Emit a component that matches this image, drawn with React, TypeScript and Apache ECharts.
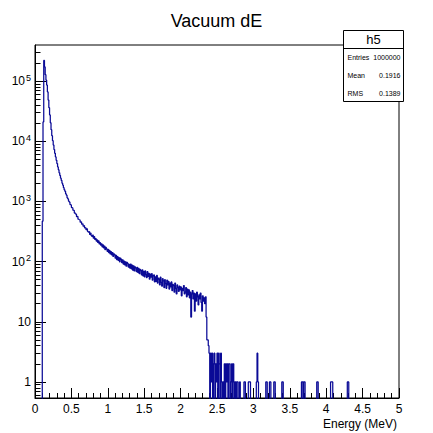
import React, { useEffect, useRef } from "react";
import * as echarts from "echarts";

// Histogram: 500 bins of 0.01 MeV from 0 to 5 MeV
const binWidth = 0.01;
const xMin = 0;
const xMax = 5;

// bins 0..11
const riseCounts = [0, 0, 0, 0, 0, 0, 0, 0, 0, 0, 470, 21000];

// bins 12..239
const bodyCounts = [
  220000, 172000, 128000, 104000, 86000, 66000, 48500, 36200,
  27400, 20300, 15600, 12400, 10200, 8650, 7280, 6310, 5490, 4820,
  4260, 3740, 3360, 2990, 2710, 2440, 2230, 2010, 1860, 1690,
  1562, 1471, 1338, 1272, 1151, 1102, 1009, 978, 889, 867,
  791, 779, 716, 704, 641, 633, 611, 559, 563, 508,
  497, 491, 452, 461, 418, 425, 388, 397, 362, 367,
  339, 351, 318, 309, 317, 283, 296, 271, 262, 276,
  245, 259, 233, 241, 219, 229, 208, 221, 197, 206,
  187, 198, 176, 189, 169, 181, 158, 172, 163, 148,
  159, 141, 153, 134, 146, 129, 141, 122, 135, 131,
  114, 127, 108, 121, 105, 116, 99, 114, 109, 96,
  107, 91, 102, 88, 99, 84, 97, 93, 81, 90,
  78, 91, 76, 87, 72, 85, 70, 82, 79, 68,
  80, 66, 77, 63, 74, 71, 60, 73, 58, 69,
  56, 70, 61, 54, 68, 57, 64, 51, 62, 55,
  63, 49, 58, 60, 46, 56, 47, 59, 44, 53,
  51, 41, 55, 45, 39, 52, 48, 37, 50, 43,
  36, 49, 41, 47, 35, 44, 38, 46, 33, 42,
  40, 31, 44, 36, 29, 41, 37, 32, 39, 34,
  38, 27, 36, 33, 40, 29, 31, 37, 26, 35,
  28, 34, 25, 31, 12, 29, 33, 24, 30, 15,
  29, 22, 31, 26, 19, 28, 24, 30, 21, 15,
  27, 22, 25, 20, 26, 12, 5, 5, 4, 3,
];

// bins 240..499
const tailCounts = [
  0, 3, 1, 3, 0, 2, 3, 0, 2, 1,
  3, 0, 3, 2, 0, 3, 1, 0, 1, 0,
  2, 0, 2, 1, 2, 0, 2, 2, 0, 1,
  2, 0, 2, 1, 0, 1, 0, 1, 1, 0,
  0, 1, 0, 0, 0, 0, 0, 1, 1, 0,
  0, 0, 0, 1, 1, 1, 0, 0, 0, 0,
  0, 0, 0, 0, 1, 3, 1, 0, 0, 0,
  0, 0, 0, 0, 0, 0, 0, 1, 1, 0,
  0, 0, 1, 1, 0, 0, 0, 0, 1, 1,
  0, 0, 0, 0, 0, 0, 0, 0, 0, 1,
  1, 0, 0, 0, 0, 0, 0, 0, 0, 0,
  0, 0, 0, 0, 0, 0, 0, 0, 0, 0,
  0, 0, 0, 0, 0, 0, 1, 1, 0, 1,
  1, 0, 0, 0, 0, 0, 0, 0, 0, 0,
  0, 0, 0, 0, 0, 0, 0, 1, 1, 0,
  0, 0, 0, 0, 0, 0, 0, 0, 0, 0,
  0, 0, 0, 0, 0, 0, 1, 1, 1, 0,
  0, 0, 0, 0, 0, 0, 0, 0, 0, 0,
  0, 0, 0, 0, 0, 0, 0, 0, 0, 1,
  1, 0, 0, 0, 0, 0, 0, 0, 0, 0,
  0, 0, 0, 0, 0, 0, 0, 0, 0, 0,
  0, 0, 0, 0, 0, 0, 0, 0, 0, 0,
  0, 0, 0, 0, 0, 0, 0, 0, 0, 0,
  0, 0, 0, 0, 0, 0, 0, 0, 0, 0,
  0, 0, 0, 0, 0, 0, 0, 0, 0, 0,
  0, 0, 0, 0, 0, 0, 0, 0, 0, 0,
];

const counts = [...riseCounts, ...bodyCounts, ...tailCounts];

// y axis range in decades (log10 of counts)
const yLogMin = -0.267;
const yLogMax = 5.6;
const majorDecades = [0, 1, 2, 3, 4, 5];
const minorMultipliers = [2, 3, 4, 5, 6, 7, 8, 9];
const xTickLabels = ["0", "0.5", "1", "1.5", "2", "2.5", "3", "3.5", "4", "4.5", "5"];
const xAxisTitle = "Energy (MeV)";

const statsTitle = "h5";
const statsRows = [
  ["Entries", "1000000"],
  ["Mean", "0.1916"],
  ["RMS", "0.1389"],
];

const FONT = "Liberation Sans";

export default function App() {
  const ref = useRef<HTMLDivElement>(null);

  useEffect(() => {
    if (!ref.current) return;
    const chart = echarts.init(ref.current, null, { renderer: "svg" });

    const data: number[][] = counts.map((c, i) => [
      xMin + i * binWidth,
      c > 0 ? Math.log10(c) : -2,
    ]);
    const last = counts[counts.length - 1];
    data.push([xMax, last > 0 ? Math.log10(last) : -2]);

    const minorVals: number[] = [];
    for (let k = -1; k <= 5; k++) {
      for (const m of minorMultipliers) {
        const v = k + Math.log10(m);
        if (v > yLogMin && v < yLogMax) minorVals.push(v);
      }
    }

    const graphics: any[] = [
      {
        type: "text",
        x: 397,
        y: 424,
        style: {
          text: xAxisTitle,
          font: `12px "${FONT}"`,
          fill: "#000",
          align: "right",
          verticalAlign: "middle",
        },
      },
      {
        type: "rect",
        shape: { x: 343.5, y: 30.5, width: 60, height: 71 },
        style: { fill: "#fff", stroke: "#000", lineWidth: 1 },
        z: 100,
      },
      {
        type: "line",
        shape: { x1: 343.5, y1: 48.5, x2: 403.5, y2: 48.5 },
        style: { stroke: "#000", lineWidth: 1 },
        z: 101,
      },
      {
        type: "text",
        x: 373.5,
        y: 39.5,
        style: {
          text: statsTitle,
          font: `13px "${FONT}"`,
          fill: "#000",
          align: "center",
          verticalAlign: "middle",
        },
        z: 101,
      },
    ];
    statsRows.forEach((row, i) => {
      const y = 57.5 + i * 18;
      graphics.push({
        type: "text",
        x: 347.5,
        y,
        style: {
          text: row[0],
          font: `7px "${FONT}"`,
          fill: "#000",
          align: "left",
          verticalAlign: "middle",
        },
        z: 101,
      });
      graphics.push({
        type: "text",
        x: 400.5,
        y,
        style: {
          text: row[1],
          font: `7px "${FONT}"`,
          fill: "#000",
          align: "right",
          verticalAlign: "middle",
        },
        z: 101,
      });
    });

    chart.setOption({
      animation: false,
      backgroundColor: "#fff",
      title: {
        text: "Vacuum dE",
        left: "center",
        top: 7,
        textStyle: {
          fontFamily: FONT,
          fontSize: 18,
          fontWeight: "normal",
          color: "#000",
        },
      },
      grid: {
        left: 35,
        right: 34,
        top: 45,
        bottom: 35,
        show: true,
        borderColor: "#000",
        borderWidth: 1,
        backgroundColor: "transparent",
      },
      xAxis: {
        type: "value",
        min: xMin,
        max: xMax,
        interval: 0.5,
        axisLine: { show: true, onZero: false, lineStyle: { color: "#000", width: 1 } },
        axisTick: { show: true, inside: true, length: 10, lineStyle: { color: "#000" } },
        minorTick: { show: true, splitNumber: 5, length: 5, lineStyle: { color: "#000" } },
        axisLabel: {
          margin: 5,
          fontFamily: FONT,
          fontSize: 12,
          color: "#000",
          formatter: (v: number) => xTickLabels[Math.round(v / 0.5)] ?? String(v),
        },
        splitLine: { show: false },
        minorSplitLine: { show: false },
      },
      yAxis: [
        {
          type: "value",
          min: yLogMin,
          max: yLogMax,
          axisLine: { show: true, onZero: false, lineStyle: { color: "#000", width: 1 } },
          axisTick: {
            show: true,
            inside: true,
            length: 11,
            customValues: majorDecades,
            lineStyle: { color: "#000" },
          },
          axisLabel: {
            customValues: majorDecades,
            margin: 4,
            fontFamily: FONT,
            fontSize: 12,
            color: "#000",
            formatter: (v: number) => {
              const d = Math.round(v);
              if (d === 0) return "1";
              if (d === 1) return "10";
              return `{b|10}{s|${d}}`;
            },
            rich: {
              b: { fontFamily: FONT, fontSize: 12, color: "#000" },
              s: {
                fontFamily: FONT,
                fontSize: 9,
                color: "#000",
                verticalAlign: "top",
                padding: [0, 0, 7, 1],
              },
            },
          },
          splitLine: { show: false },
        },
        {
          type: "value",
          min: yLogMin,
          max: yLogMax,
          position: "left",
          offset: 0,
          axisLine: { show: false },
          axisTick: {
            show: true,
            inside: true,
            length: 5.5,
            customValues: minorVals,
            lineStyle: { color: "#000" },
          },
          axisLabel: { show: false },
          splitLine: { show: false },
        },
      ],
      series: [
        {
          type: "line",
          yAxisIndex: 0,
          step: "end",
          data,
          showSymbol: false,
          symbol: "none",
          clip: true,
          lineStyle: { color: "#0a0a96", width: 1.25 },
          z: 2,
        },
      ],
      graphic: graphics,
    });

    return () => chart.dispose();
  }, []);

  return (
    <div
      ref={ref}
      style={{ position: "fixed", left: 0, top: 0, width: 433, height: 433 }}
    />
  );
}
